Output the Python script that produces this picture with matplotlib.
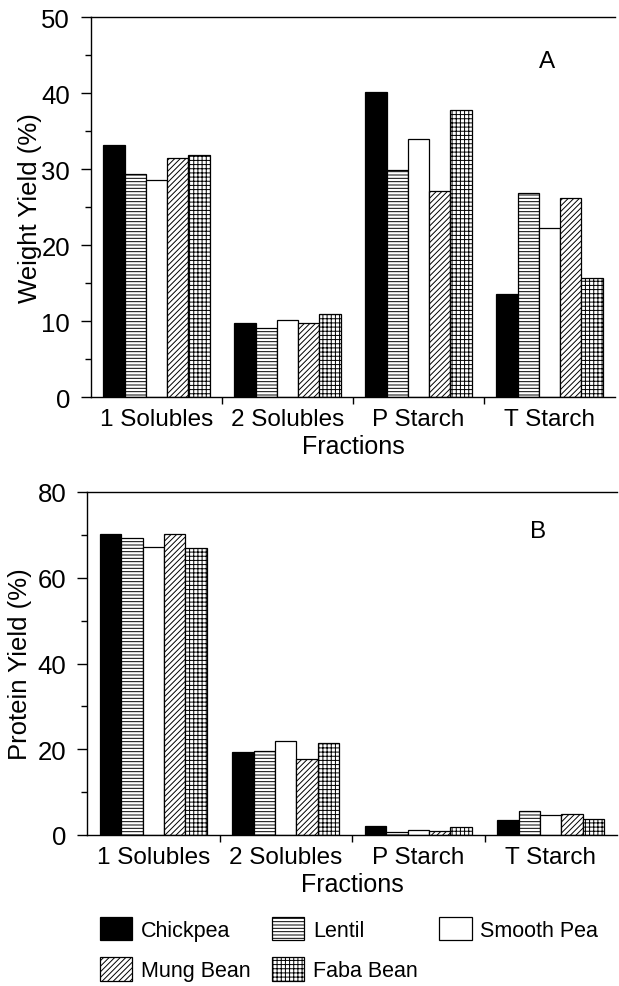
import numpy as np
import matplotlib
matplotlib.use('Agg')
import matplotlib.pyplot as plt
from matplotlib.patches import Patch

plt.rcParams['font.family'] = ['Liberation Sans', 'DejaVu Sans']
plt.rcParams['hatch.linewidth'] = 0.7

fractions = ['1 Solubles', '2 Solubles', 'P Starch', 'T Starch']
legumes = ['Chickpea', 'Lentil', 'Smooth Pea', 'Mung Bean', 'Faba Bean']

# weight yield (%), one list per legume, in fraction order
weight_chickpea = [33.1, 9.8, 40.1, 13.5]
weight_lentil = [29.3, 9.1, 29.9, 26.9]
weight_smooth = [28.6, 10.1, 34.0, 22.2]
weight_mung = [31.4, 9.7, 27.1, 26.2]
weight_faba = [31.9, 10.9, 37.8, 15.6]

# protein yield (%)
protein_chickpea = [70.1, 19.4, 2.2, 3.5]
protein_lentil = [69.3, 19.7, 0.8, 5.5]
protein_smooth = [67.1, 21.9, 1.2, 4.6]
protein_mung = [70.1, 17.7, 1.0, 4.9]
protein_faba = [67.0, 21.4, 1.8, 3.7]

weight = [weight_chickpea, weight_lentil, weight_smooth, weight_mung, weight_faba]
protein = [protein_chickpea, protein_lentil, protein_smooth, protein_mung, protein_faba]

styles = [
    dict(facecolor='black', hatch=None),
    dict(facecolor='white', hatch='-----'),
    dict(facecolor='white', hatch=None),
    dict(facecolor='white', hatch='//////'),
    dict(facecolor='white', hatch='++++'),
]

W = 619
H = 987
fig = plt.figure(figsize=(W / 100, H / 100), dpi=100)

axA = fig.add_axes([91 / W, 1 - 398 / H, 524 / W, 380 / H])
axB = fig.add_axes([87 / W, 1 - 836 / H, 530 / W, 343 / H])


def draw_panel(ax, data, ymax, major, minor, ylabel, letter, letter_pos, label_x):
    x = np.arange(len(fractions))
    bw = 0.162
    for i, (vals, st) in enumerate(zip(data, styles)):
        ax.bar(x + (i - 2) * bw, vals, bw, facecolor=st['facecolor'],
               hatch=st['hatch'], edgecolor='black', linewidth=0.9)
    ax.set_xlim(-0.5, len(fractions) - 0.5)
    ax.set_ylim(0, ymax)
    ax.spines['right'].set_visible(False)
    for s in ['left', 'top', 'bottom']:
        ax.spines[s].set_linewidth(1.0)

    ax.set_xticks(x)
    ax.set_xticklabels(fractions, fontsize=17.5)
    ax.tick_params(axis='x', which='major', length=0, pad=8)
    ax.set_xticks(np.arange(len(fractions) - 1) + 0.5, minor=True)
    ax.tick_params(axis='x', which='minor', length=5, direction='out', width=1)

    ax.set_yticks(np.arange(0, ymax + 1, major))
    ax.set_yticks(np.arange(minor, ymax, major), minor=True)
    ax.tick_params(axis='y', which='major', length=7, width=1, labelsize=18.5, pad=8)
    ax.tick_params(axis='y', which='minor', length=4, width=1)

    ax.set_xlabel('Fractions', fontsize=18, labelpad=3)
    ax.set_ylabel(ylabel, fontsize=18.5)
    ax.yaxis.set_label_coords(label_x, 0.5)
    ax.text(letter_pos[0], letter_pos[1], letter, transform=ax.transAxes,
            fontsize=17.5, ha='center', va='center')


draw_panel(axA, weight, 50, 10, 5, 'Weight Yield (%)', 'A', ((547 - 91) / 524, (398 - 62) / 380), -0.094)
draw_panel(axB, protein, 80, 20, 10, 'Protein Yield (%)', 'B', ((538 - 87) / 530, (836 - 532) / 343), -0.104)

# legend fills column by column
order = [0, 3, 1, 4, 2]
handles = [Patch(facecolor=styles[i]['facecolor'], hatch=styles[i]['hatch'],
                 edgecolor='black', linewidth=0.9, label=legumes[i]) for i in order]
fig.legend(handles=handles, loc='upper left', bbox_to_anchor=(100 / W, 1 - 918 / H),
           ncol=3, frameon=False, fontsize=15.5, handlelength=1.5, handleheight=1.3,
           handletextpad=0.4, columnspacing=1.0, labelspacing=0.75,
           borderpad=0, borderaxespad=0)

fig.savefig('out.png', dpi=100)
